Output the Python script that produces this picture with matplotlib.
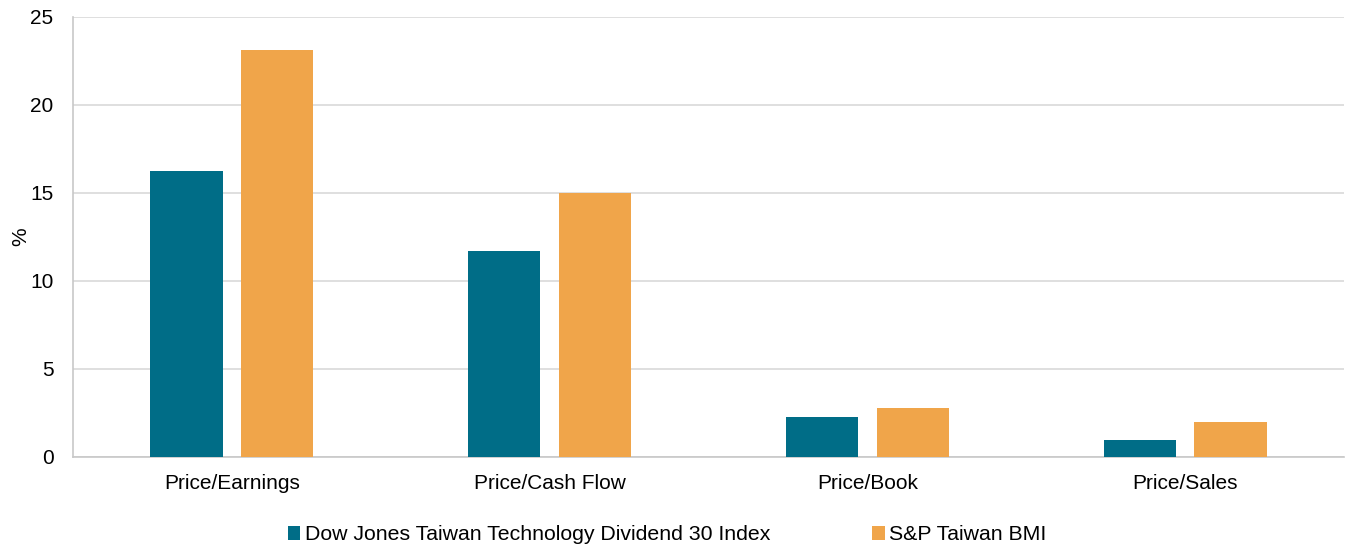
import matplotlib.pyplot as plt
import numpy as np

plt.rcParams["font.family"] = ["Liberation Sans", "DejaVu Sans"]

categories = ["Price/Earnings", "Price/Cash Flow", "Price/Book", "Price/Sales"]
dj_tech_div30 = [16.25, 11.7, 2.25, 0.96]
sp_taiwan_bmi = [23.1, 15.0, 2.77, 1.98]
series_names = ["Dow Jones Taiwan Technology Dividend 30 Index", "S&P Taiwan BMI"]

TEAL = "#006d87"
ORANGE = "#f0a54a"
GRID = "#d9d9d9"

fig = plt.figure(figsize=(13.46, 5.48), dpi=100)
ax = fig.add_axes([73 / 1346, 1 - 457 / 548, (1344 - 73) / 1346, (457 - 17) / 548])

x = np.arange(len(categories))
w = 0.227
off = 0.143
ax.bar(x - off, dj_tech_div30, w, color=TEAL, label=series_names[0], zorder=3)
ax.bar(x + off, sp_taiwan_bmi, w, color=ORANGE, label=series_names[1], zorder=3)

ax.set_xlim(-0.5, len(categories) - 0.5)
ax.set_ylim(0, 25)
ax.set_yticks(range(0, 26, 5))
ax.set_xticks(x)
ax.set_xticklabels(categories)
ax.tick_params(axis="both", length=0, labelsize=15, colors="#000000")
ax.tick_params(axis="x", pad=12)
ax.tick_params(axis="y", pad=14)
ax.yaxis.grid(True, color=GRID, linewidth=1.2, zorder=0)
for s in ["top", "right"]:
    ax.spines[s].set_visible(False)
for s in ["left", "bottom"]:
    ax.spines[s].set_color("#c8c8c8")
    ax.spines[s].set_linewidth(1.2)
ax.set_ylabel("%", fontsize=15, labelpad=0)

fig.legend(loc="center", bbox_to_anchor=(0.4955, 1 - 535 / 548), ncol=2, frameon=False,
           fontsize=15.3, handlelength=0.6, handleheight=0.6, handletextpad=0.2,
           columnspacing=4.8)

fig.savefig("out.png", dpi=100)
